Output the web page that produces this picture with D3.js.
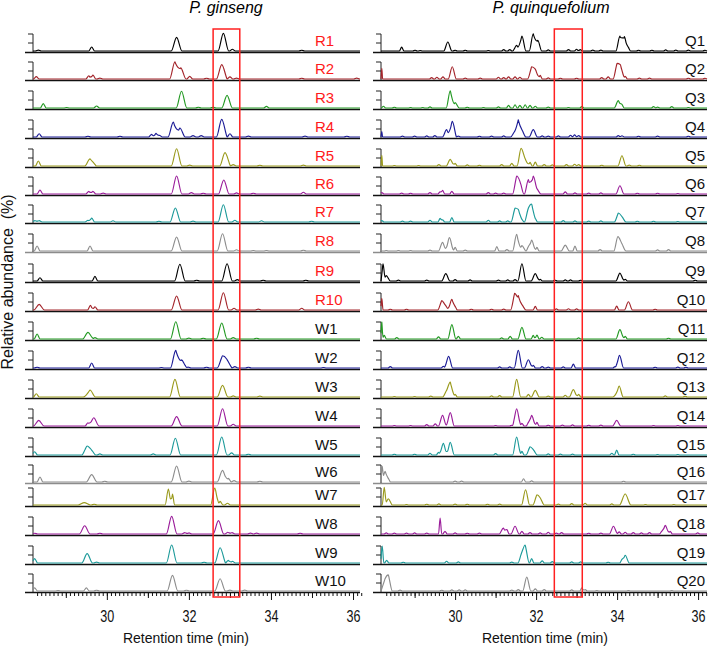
<!DOCTYPE html>
<html>
<head>
<meta charset="utf-8">
<script src="https://cdn.jsdelivr.net/npm/d3@7"></script>
<style>
body { margin: 0; background: #fff; }
text { font-family: Arial, "Liberation Sans", sans-serif; }
</style>
</head>
<body>
<script>
// sample names, top to bottom
var ginsengNames = ["R1", "R2", "R3", "R4", "R5", "R6", "R7", "R8", "R9", "R10",
    "W1", "W2", "W3", "W4", "W5", "W6", "W7", "W8", "W9", "W10"];
var quinqueNames = ["Q1", "Q2", "Q3", "Q4", "Q5", "Q6", "Q7", "Q8", "Q9", "Q10",
    "Q11", "Q12", "Q13", "Q14", "Q15", "Q16", "Q17", "Q18", "Q19", "Q20"];

var xTickLabels = [30, 32, 34, 36];

// highlighted retention window (min)
var ginsengWindow = [32.59, 33.24];
var quinqueWindow = [32.45, 33.14];

// peaks: [retention time (min), relative abundance (%), half width (min, optional)]
var ginsengPeaks = [
    [[28.33, 5], [29.63, 22], [31.70, 76], [32.84, 98], [33.06, 10], [34.75, 4]],
    [[28.28, 13], [29.56, 18], [29.66, 22], [29.83, 5], [31.66, 96], [31.80, 62], [32.02, 15], [32.43, 4], [32.80, 80], [33.0, 12], [33.16, 5], [34.75, 4], [36.09, 5]],
    [[28.45, 24], [29.02, 3], [29.75, 11], [31.82, 93], [32.23, 4], [32.59, 4], [32.93, 70], [33.89, 9]],
    [[28.35, 18], [29.54, 4], [30.32, 4], [31.09, 15], [31.2, 20], [31.28, 10], [31.62, 83], [31.78, 50], [32.1, 8], [32.3, 8], [32.80, 98], [33.0, 18], [33.45, 5], [34.83, 5], [35.85, 4]],
    [[28.33, 28], [29.59, 40], [29.67, 20], [31.70, 96], [32.02, 5], [32.88, 74], [33.08, 8], [33.73, 4], [34.79, 5]],
    [[28.37, 22], [29.56, 15], [29.66, 15], [29.91, 5], [31.70, 100], [32.06, 8], [32.35, 4], [32.85, 78], [33.16, 6], [33.57, 4], [34.79, 10]],
    [[28.25, 8], [28.35, 8], [29.54, 10], [29.63, 22], [30.15, 7], [31.27, 4], [31.67, 78], [32.1, 5], [32.84, 96], [33.12, 10], [33.77, 7], [34.99, 4]],
    [[28.30, 28], [29.59, 28], [31.70, 78], [32.82, 96], [33.16, 7], [33.57, 3], [33.89, 3], [34.79, 4]],
    [[28.37, 18], [29.71, 26], [31.78, 93], [32.19, 4], [32.93, 96], [33.18, 8], [33.81, 4], [34.85, 4]],
    [[28.35, 31], [29.60, 26], [29.71, 18], [31.70, 78], [32.84, 96], [33.1, 10], [33.69, 5], [34.75, 10]],
    [[28.30, 28], [29.54, 37], [29.71, 8], [31.68, 96], [32.0, 5], [32.35, 4], [32.80, 89], [33.08, 8], [33.65, 4]],
    [[28.3, 4], [29.63, 28], [31.33, 3], [31.68, 98], [31.82, 45], [31.98, 5], [32.43, 4], [32.82, 68], [32.92, 50], [33.12, 8], [33.45, 4], [35.28, 3]],
    [[28.28, 18], [29.5, 8], [29.59, 39], [31.66, 98], [32.82, 65], [33.08, 6], [33.73, 5]],
    [[28.34, 31], [29.54, 18], [29.68, 46], [31.70, 52], [32.82, 96], [33.08, 10]],
    [[28.24, 18], [29.52, 50], [29.60, 35], [29.83, 6], [31.13, 6], [31.67, 93], [32.80, 100], [33.04, 12], [33.45, 4]],
    [[28.37, 28], [29.63, 41], [29.95, 4], [31.70, 89], [32.0, 5], [32.82, 65], [32.96, 20], [33.1, 8], [33.73, 4]],
    [[29.45, 13, 0.15], [29.69, 4], [31.50, 89, 0.08], [31.60, 61, 0.05], [32.63, 94, 0.1], [32.76, 20], [32.94, 10]],
    [[28.24, 4], [29.46, 46], [29.83, 4], [31.58, 98], [31.9, 8], [32.0, 6], [32.72, 74], [32.95, 10], [33.05, 8], [33.5, 5], [33.65, 5], [34.71, 4]],
    [[28.24, 24], [29.52, 52], [29.75, 5], [31.58, 100], [32.37, 4], [32.76, 85], [32.96, 15], [33.06, 10]],
    [[28.24, 17], [28.81, 3], [29.5, 17], [29.75, 4], [31.60, 87], [31.94, 4], [32.76, 68], [33.0, 5], [33.36, 5]]
];

var quinquePeaks = [
    [[28.68, 22], [29.01, 4], [29.14, 3], [29.82, 50], [30.0, 4], [30.25, 4], [30.82, 3], [31.2, 8], [31.35, 8], [31.52, 31], [31.65, 83], [31.93, 96], [32.04, 60], [32.3, 6], [32.8, 8], [33.0, 10], [33.09, 8], [33.4, 5], [33.6, 5], [34.07, 83], [34.18, 80], [34.28, 20], [34.53, 4], [34.86, 4], [35.2, 6], [35.45, 5], [35.76, 5], [36.17, 4]],
    [[28.19, 60, 0.02], [29.42, 8], [29.55, 10], [29.7, 12], [29.93, 68], [30.25, 5], [30.62, 5], [31.07, 10], [31.2, 8], [31.32, 12], [31.48, 12], [31.6, 10], [31.89, 68], [31.98, 55], [32.1, 20], [32.3, 6], [32.6, 4], [33.0, 4], [33.62, 8], [33.78, 12], [34.0, 87], [34.08, 80], [34.2, 15], [34.55, 5], [34.8, 5], [35.76, 4], [36.17, 4]],
    [[28.23, 10], [28.5, 4], [28.9, 3], [29.2, 3], [29.38, 6], [29.88, 96], [30.0, 30], [30.3, 4], [30.7, 3], [31.07, 6], [31.32, 15], [31.48, 18], [31.6, 15], [31.73, 18], [31.85, 15], [31.98, 10], [32.3, 5], [32.8, 3], [33.13, 8], [34.03, 41], [34.12, 20], [34.9, 8], [35.0, 5], [35.35, 8], [35.76, 3]],
    [[28.19, 30, 0.02], [28.7, 5], [29.0, 5], [29.3, 6], [29.5, 8], [29.79, 41], [29.93, 87], [30.08, 5], [30.6, 4], [30.9, 5], [31.2, 6], [31.47, 31], [31.56, 96], [31.65, 40], [31.93, 41], [32.15, 6], [32.3, 5], [32.55, 6], [32.85, 10], [32.95, 12], [33.05, 8], [34.03, 8], [34.12, 7], [34.53, 4], [35.0, 5], [35.76, 4]],
    [[28.19, 60, 0.02], [28.5, 3], [29.1, 3], [29.6, 8], [29.88, 37], [30.0, 15], [30.3, 6], [30.6, 4], [31.15, 8], [31.4, 15], [31.63, 98], [31.73, 40], [31.85, 20], [31.98, 22], [32.2, 8], [32.4, 6], [32.75, 8], [32.95, 10], [33.05, 8], [33.62, 4], [34.12, 57], [34.3, 5], [34.55, 4]],
    [[28.19, 8], [28.68, 5], [28.9, 4], [29.38, 8], [29.63, 12], [29.69, 20], [29.92, 15], [30.82, 8], [31.0, 5], [31.2, 5], [31.52, 100], [31.6, 70], [31.81, 80], [31.93, 100], [32.02, 30], [32.72, 12], [32.96, 6], [33.3, 5], [33.6, 6], [34.07, 46], [34.5, 4], [35.0, 4], [35.5, 3]],
    [[28.19, 8], [28.7, 5], [28.9, 5], [29.38, 10], [29.63, 20], [29.69, 12], [29.92, 25], [30.82, 10], [31.1, 6], [31.3, 6], [31.48, 78], [31.56, 70], [31.65, 15], [31.81, 78], [31.89, 100], [31.98, 20], [32.67, 8], [32.96, 6], [33.3, 5], [33.6, 6], [34.03, 50], [34.12, 30], [34.5, 4], [34.9, 4], [35.5, 3]],
    [[28.3, 3], [28.6, 3], [28.9, 3], [29.38, 5], [29.69, 48], [29.86, 74], [30.0, 20], [30.25, 5], [31.03, 24], [31.28, 8], [31.52, 93], [31.65, 30], [31.81, 25], [31.89, 61], [32.02, 20], [32.72, 33], [32.96, 28], [33.58, 8], [34.02, 80], [34.12, 40], [35.0, 6], [35.27, 8]],
    [[28.22, 96, 0.05], [28.3, 30], [28.6, 5], [29.3, 5], [29.77, 41], [30.0, 8], [30.37, 6], [31.07, 5], [31.3, 6], [31.48, 8], [31.65, 96], [31.98, 41], [32.1, 10], [32.47, 4], [32.72, 6], [32.85, 6], [33.1, 4], [34.07, 44], [34.2, 10], [35.93, 4]],
    [[28.19, 65, 0.03], [28.4, 4], [28.8, 4], [29.67, 52], [29.75, 30], [29.92, 59], [30.0, 20], [30.4, 4], [30.9, 4], [31.2, 5], [31.47, 93], [31.56, 80], [31.65, 30], [31.98, 20], [32.5, 6], [32.8, 7], [33.0, 6], [33.99, 22], [34.28, 46], [34.94, 4]],
    [[28.19, 96, 0.03], [28.25, 20], [28.56, 8], [29.59, 12], [29.92, 80], [30.08, 15], [31.15, 6], [31.36, 15], [31.65, 65], [31.93, 20], [32.02, 22], [32.14, 10], [33.05, 6], [34.07, 52], [34.2, 15], [35.27, 4]],
    [[28.4, 8], [29.71, 10], [29.84, 65], [31.1, 6], [31.35, 6], [31.56, 98], [31.81, 46], [31.93, 15], [32.15, 8], [32.3, 5], [32.67, 6], [32.92, 22], [33.95, 8], [34.06, 70], [34.94, 4], [35.5, 5], [35.7, 4]],
    [[28.5, 3], [29.0, 3], [29.4, 5], [29.79, 37], [29.88, 83], [30.0, 15], [30.9, 6], [31.1, 8], [31.52, 98], [31.81, 15], [31.98, 37], [32.3, 5], [32.72, 10], [32.92, 41], [33.05, 15], [33.95, 10], [34.05, 61], [35.19, 6], [35.68, 4]],
    [[28.5, 3], [28.9, 3], [29.3, 8], [29.51, 12], [29.69, 59], [29.88, 74], [31.0, 3], [31.4, 4], [31.52, 96], [31.65, 15], [31.81, 20], [31.89, 59], [32.02, 20], [32.3, 4], [32.65, 5], [32.9, 6], [33.3, 4], [33.6, 5], [33.99, 31], [34.9, 3], [35.5, 3]],
    [[28.5, 4], [29.0, 4], [29.38, 10], [29.59, 15], [29.71, 65], [29.88, 70], [31.0, 8], [31.52, 100], [31.65, 20], [31.85, 46], [31.93, 30], [32.3, 6], [32.6, 5], [32.9, 5], [33.87, 10], [33.99, 28], [34.4, 4], [35.0, 3], [35.5, 3]],
    [[28.2, 87, 0.03], [28.27, 60], [28.35, 20], [30.0, 5], [30.16, 5], [31.69, 18], [31.89, 6], [34.16, 4]],
    [[28.25, 98, 0.05], [28.35, 35], [28.8, 3], [29.3, 4], [29.6, 6], [30.0, 5], [30.3, 4], [30.8, 4], [31.1, 5], [31.74, 85], [32.02, 57], [32.1, 40], [32.55, 5], [32.88, 8], [33.21, 10], [33.87, 6], [34.2, 61, 0.14], [34.7, 3], [35.4, 3]],
    [[28.3, 6], [28.5, 5], [28.8, 5], [29.0, 6], [29.3, 5], [29.63, 89, 0.04], [29.75, 15], [30.0, 6], [30.3, 4], [30.6, 5], [31.19, 33], [31.28, 25], [31.48, 43], [31.65, 15], [31.85, 8], [32.1, 6], [32.3, 10], [32.5, 5], [32.63, 8], [33.3, 4], [33.6, 5], [33.91, 43], [34.05, 12], [34.2, 10], [34.4, 8], [34.6, 6], [34.8, 8], [35.1, 15], [35.19, 48], [35.31, 15], [35.99, 6]],
    [[28.2, 94, 0.04], [28.31, 15], [28.72, 4], [29.79, 10], [30.08, 6], [31.4, 5], [31.65, 61], [31.73, 100], [31.89, 25], [32.15, 12], [32.4, 8], [32.88, 6], [33.1, 6], [33.78, 4], [34.12, 20], [34.2, 43]],
    [[28.27, 68], [28.35, 90], [28.64, 5], [29.67, 4], [29.92, 6], [30.1, 6], [30.25, 6], [31.4, 5], [31.56, 8], [31.77, 78], [31.98, 12], [32.2, 8], [32.88, 6], [33.13, 17], [33.21, 8], [33.5, 3], [34.28, 3], [35.35, 3]]
];

// ---- layout ----
var width = 714,
    height = 651;

// baseline of each stacked trace (W7 / Q17 sit a little closer)
var rowY = [52, 80, 109, 138, 167, 195, 223, 252, 282, 311,
    340, 369, 398, 427, 456, 483, 506, 535, 564, 592];
var rowH = 18;

var palette = ["#000000", "#a3242a", "#229922", "#1c1c96", "#9a9a1c", "#9a1c9a", "#1c9a9a", "#8c8c8c"];

function rowColor(i) {
    return palette[i < 16 ? i % 8 : i - 12];
}

var panels = [{
    title: "P. ginseng", names: ginsengNames, peaks: ginsengPeaks, window: ginsengWindow,
    domain: [28.2, 36.17], range: [33, 360], titleX: 226, labelX: 315, anchor: "start",
    halfWidth: 0.13, titleLabelX: 186
}, {
    title: "P. quinquefolium", names: quinqueNames, peaks: quinquePeaks, window: quinqueWindow,
    domain: [28.17, 36.22], range: [381, 707], titleX: 551, labelX: 705, anchor: "end",
    halfWidth: 0.1, titleLabelX: 545
}];

var svg = d3.select("body").append("svg")
    .attr("width", width)
    .attr("height", height);

var y = d3.scaleLinear()
    .domain([0, 100])
    .range([-1, -1 - rowH]);

// build a polyline from peak list: envelope of triangular peaks
function tracePoints(peaks, domain, hw) {
    var ps = peaks.map(function(p) {
        return { t: p[0], h: p[1], w: p[2] || (p[1] >= 30 ? hw : hw * 0.55) };
    });
    var ts = [domain[0], domain[1]];
    ps.forEach(function(p) {
        ts.push(p.t - p.w, p.t, p.t + p.w);
    });
    ts = ts.filter(function(t) { return t >= domain[0] && t <= domain[1]; })
        .sort(d3.ascending);
    ts = ts.filter(function(t, i) { return i === 0 || t - ts[i - 1] > 1e-6; });
    return ts.map(function(t) {
        var v = d3.max(ps, function(p) {
            return Math.max(0, p.h * (1 - Math.abs(t - p.t) / p.w));
        });
        return [t, v || 0];
    });
}

panels.forEach(function(pn) {
    var x = d3.scaleLinear().domain(pn.domain).range(pn.range);
    var x0 = pn.range[0];

    var line = d3.line()
        .x(function(d) { return x(d[0]); })
        .y(function(d) { return y(d[1]); })
        .curve(d3.curveMonotoneX);

    // title
    svg.append("text")
        .attr("x", pn.titleX)
        .attr("y", 13)
        .attr("text-anchor", "middle")
        .style("font-size", "16px")
        .style("font-style", "italic")
        .text(pn.title);

    var rows = svg.selectAll(null)
        .data(pn.names)
        .enter().append("g")
        .attr("transform", function(d, i) { return "translate(0," + rowY[i] + ")"; });

    // axis line under each trace
    rows.append("line")
        .attr("x1", x0 - 8)
        .attr("x2", pn.range[1])
        .attr("y1", 0.5)
        .attr("y2", 0.5)
        .attr("stroke", function(d, i) { return rowColor(i) === "#8c8c8c" && i < 19 ? "#8c8c8c" : "#111"; })
        .attr("stroke-width", 1.3);

    // small y bracket
    rows.append("path")
        .attr("d", "M" + (x0 - 5) + "," + (-rowH) + "H" + x0 + "V0" +
            "M" + (x0 - 5) + "," + (-rowH / 2) + "H" + x0)
        .attr("fill", "none")
        .attr("stroke", "#222")
        .attr("stroke-width", 1);

    // traces
    rows.append("path")
        .attr("d", function(d, i) { return line(tracePoints(pn.peaks[i], pn.domain, pn.halfWidth)); })
        .attr("fill", "none")
        .attr("stroke", function(d, i) { return rowColor(i); })
        .attr("stroke-width", 1.15);

    // sample labels
    rows.append("text")
        .attr("x", pn.labelX)
        .attr("y", -6)
        .attr("text-anchor", pn.anchor)
        .style("font-size", "15px")
        .attr("fill", function(d) { return d[0] === "R" ? "#ff1a1a" : "#111"; })
        .text(function(d) { return d; });

    // bottom axis: minor ticks then major ticks
    var axisY = rowY[rowY.length - 1];
    svg.append("g")
        .attr("transform", "translate(0," + (axisY + 1) + ")")
        .call(d3.axisBottom(x)
            .tickValues(d3.range(28.3, 36.21, 0.1))
            .tickSize(3)
            .tickFormat(""))
        .call(function(g) { g.select(".domain").remove(); });

    var major = svg.append("g")
        .attr("transform", "translate(0," + (axisY + 1) + ")")
        .call(d3.axisBottom(x)
            .tickValues(d3.range(29, 37, 1))
            .tickSize(6)
            .tickFormat(function(d) { return xTickLabels.indexOf(d) >= 0 ? d : ""; }))
        .call(function(g) { g.select(".domain").remove(); });

    major.selectAll(".tick line")
        .attr("y2", function(d) { return xTickLabels.indexOf(d) >= 0 ? 7 : 5; });

    major.selectAll(".tick text")
        .attr("y", 17)
        .attr("dy", "0.71em")
        .attr("fill", "#111")
        .style("font-size", "17px")
        .style("font-family", "Arial, 'Liberation Sans', sans-serif")
        .attr("textLength", function(d) { return xTickLabels.indexOf(d) >= 0 ? 14 : null; })
        .attr("lengthAdjust", "spacingAndGlyphs");

    svg.selectAll(".tick line").attr("stroke", "#111");

    // axis title
    svg.append("text")
        .attr("x", pn.titleLabelX)
        .attr("y", 643)
        .attr("text-anchor", "middle")
        .style("font-size", "14px")
        .attr("fill", "#111")
        .text("Retention time (min)");

    // highlighted window
    svg.append("rect")
        .attr("x", x(pn.window[0]))
        .attr("y", 29)
        .attr("width", x(pn.window[1]) - x(pn.window[0]))
        .attr("height", 597 - 29)
        .attr("fill", "none")
        .attr("stroke", "#ff2020")
        .attr("stroke-width", 1.5);
});

// y axis title
svg.append("text")
    .attr("transform", "translate(13,282) rotate(-90)")
    .attr("text-anchor", "middle")
    .style("font-size", "16px")
    .style("white-space", "pre")
    .attr("fill", "#111")
    .text("Relative abundance  (%)");
</script>
</body>
</html>
